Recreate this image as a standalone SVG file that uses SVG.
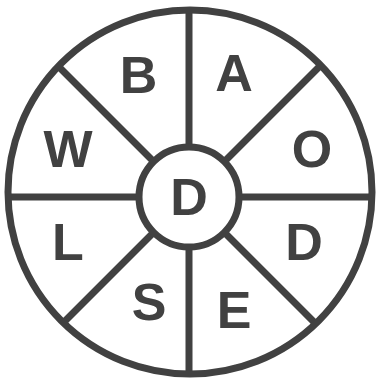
<svg xmlns="http://www.w3.org/2000/svg" width="376" height="378" viewBox="0 0 376 378">
<style>
.ln{stroke:#414141;stroke-width:7;fill:none}
.t{font-family:"Liberation Sans",Arial,sans-serif;font-weight:bold;font-size:52px;fill:#414141;text-anchor:middle}
</style>
<rect width="376" height="378" fill="#fff"/>
<g id="connectors">
<line class="ln" x1="189" y1="10" x2="189" y2="374"/>
<line class="ln" x1="8" y1="197" x2="372" y2="197"/>
<line class="ln" x1="58.3" y1="66.3" x2="315.7" y2="323.7"/>
<line class="ln" x1="320.7" y1="65.3" x2="63.3" y2="322.7"/>
</g>
<g id="outer"><circle class="ln" cx="190" cy="192" r="182"/></g>
<g id="center"><circle class="ln" cx="189" cy="197" r="50" fill="#fff" style="fill:#fff"/><text class="t" x="189" y="215">D</text></g>
<g id="B"><text class="t" x="138.5" y="93">B</text></g>
<g id="A"><text class="t" x="234" y="91">A</text></g>
<g id="W"><text class="t" x="68" y="167">W</text></g>
<g id="O"><text class="t" x="312" y="167">O</text></g>
<g id="D2"><text class="t" x="304" y="260">D</text></g>
<g id="L"><text class="t" x="68" y="260">L</text></g>
<g id="S"><text class="t" x="149" y="320">S</text></g>
<g id="E"><text class="t" x="234" y="328">E</text></g>
</svg>
